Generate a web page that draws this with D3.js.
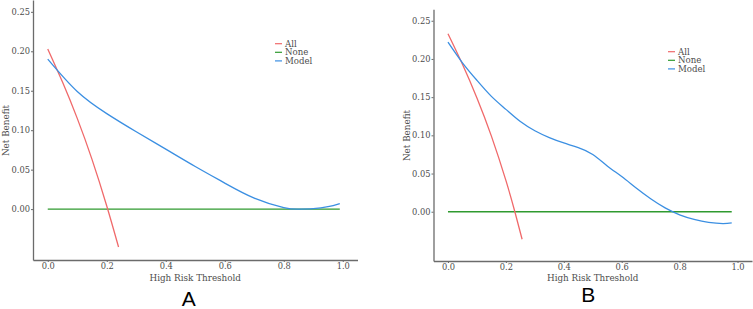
<!DOCTYPE html>
<html>
<head>
<meta charset="utf-8">
<script src="https://cdn.jsdelivr.net/npm/d3@7"></script>
<style>
  body { margin: 0; background: #fff; }
  svg text { font-family: "DejaVu Serif", serif; fill: #4d4d4d; }
</style>
</head>
<body>
<div id="chart"></div>
<script>
// values
const xTicks = [0, 0.2, 0.4, 0.6, 0.8, 1.0];
const yTicks = [0, 0.05, 0.10, 0.15, 0.20, 0.25];
const legendNames = ["All", "None", "Model"];
const colors = ["#f0696a", "#2f9a2f", "#3b8fe2"];

// panel A
const allA_t = [0, 0.05, 0.1, 0.15, 0.2, 0.24];
const allA_v = [0.203, 0.161, 0.115, 0.063, 0.004, -0.048];
const noneA_t = [0, 0.99];
const noneA_v = [0, 0];
const modelA_t = [0, 0.1, 0.2, 0.3, 0.4, 0.5, 0.6, 0.7, 0.8, 0.85, 0.9, 0.95, 0.99];
const modelA_v = [0.190, 0.149, 0.121, 0.098, 0.076, 0.054, 0.033, 0.014, 0.002, 0.0, 0.0005, 0.003, 0.007];

// panel B
const allB_t = [0, 0.05, 0.1, 0.15, 0.2, 0.231, 0.256];
const allB_v = [0.233, 0.193, 0.149, 0.099, 0.041, 0.0, -0.036];
const noneB_t = [0, 0.98];
const noneB_v = [0, 0];
const modelB_t = [0, 0.05, 0.1, 0.15, 0.2, 0.25, 0.3, 0.35, 0.4, 0.45, 0.5, 0.55, 0.6, 0.65, 0.7, 0.75, 0.8, 0.85, 0.9, 0.95, 0.98];
const modelB_v = [0.222, 0.195, 0.172, 0.151, 0.134, 0.118, 0.106, 0.097, 0.090, 0.084, 0.075, 0.060, 0.046, 0.031, 0.017, 0.005, -0.004, -0.010, -0.014, -0.0155, -0.0145];

const W = 753, H = 309;
const svg = d3.select("#chart").append("svg")
  .attr("width", W).attr("height", H);

const zip = (t, v) => t.map((d, i) => [d, v[i]]);

const panels = [
  { label: "A", xr: [33, 357.5], yr: [260, 0],
    series: [zip(allA_t, allA_v), zip(noneA_t, noneA_v), zip(modelA_t, modelA_v)],
    yLab: [8.5, 130.5], xLabY: 281, letter: [188.7, 306], legend: [275, 43.7] },
  { label: "B", xr: [433.5, 752], yr: [261, 9.3],
    series: [zip(allB_t, allB_v), zip(noneB_t, noneB_v), zip(modelB_t, modelB_v)],
    yLab: [409.5, 135.5], xLabY: 281, letter: [588.3, 302], legend: [668, 51.7] }
];

panels.forEach(p => {
  const x = d3.scaleLinear().domain([-0.05, 1.05]).range(p.xr);
  const y = d3.scaleLinear().domain([-0.0645, 0.265]).range(p.yr);
  const g = svg.append("g");

  const xAxis = g.append("g")
    .attr("transform", `translate(0,${p.yr[0]})`)
    .call(d3.axisBottom(x).tickValues(xTicks).tickFormat(d3.format(".1f"))
      .tickSize(2).tickPadding(1).tickSizeOuter(0));
  const yAxis = g.append("g")
    .attr("transform", `translate(${p.xr[0]},0)`)
    .call(d3.axisLeft(y).tickValues(yTicks).tickFormat(d3.format(".2f"))
      .tickSize(2).tickPadding(1).tickSizeOuter(0));
  [xAxis, yAxis].forEach(a => {
    a.selectAll("text").style("font-family", "DejaVu Serif").style("font-size", "8.3px").attr("fill", "#4d4d4d");
    a.selectAll("line").attr("stroke", "#6b6b6b");
    a.select(".domain").attr("stroke", "#6b6b6b").attr("stroke-width", 1.3);
  });

  g.append("text")
    .attr("x", (p.xr[0] + p.xr[1]) / 2).attr("y", p.xLabY)
    .attr("text-anchor", "middle").style("font-size", "8.8px")
    .text("High Risk Threshold");
  g.append("text")
    .attr("transform", `translate(${p.yLab[0]},${p.yLab[1]}) rotate(-90)`)
    .attr("text-anchor", "middle").style("font-size", "8.8px")
    .text("Net Benefit");

  const line = d3.line().x(d => x(d[0])).y(d => y(d[1])).curve(d3.curveNatural);
  // green first, then red, blue on top
  [1, 0, 2].forEach(i => {
    g.append("path").datum(p.series[i])
      .attr("d", line).attr("fill", "none")
      .attr("stroke", colors[i]).attr("stroke-width", 1.3);
  });

  legendNames.forEach((n, i) => {
    const ly = p.legend[1] + i * 8.6;
    g.append("line")
      .attr("x1", p.legend[0]).attr("x2", p.legend[0] + 7)
      .attr("y1", ly).attr("y2", ly)
      .attr("stroke", colors[i]).attr("stroke-width", 1.2);
    g.append("text")
      .attr("x", p.legend[0] + 10).attr("y", ly).attr("dy", "0.35em")
      .style("font-size", "8.6px").text(n);
  });

  svg.append("text")
    .attr("x", p.letter[0]).attr("y", p.letter[1])
    .attr("text-anchor", "middle")
    .style("font-family", "Liberation Sans, Arial, sans-serif")
    .style("font-size", "21px").style("fill", "#000")
    .text(p.label);
});
</script>
</body>
</html>
